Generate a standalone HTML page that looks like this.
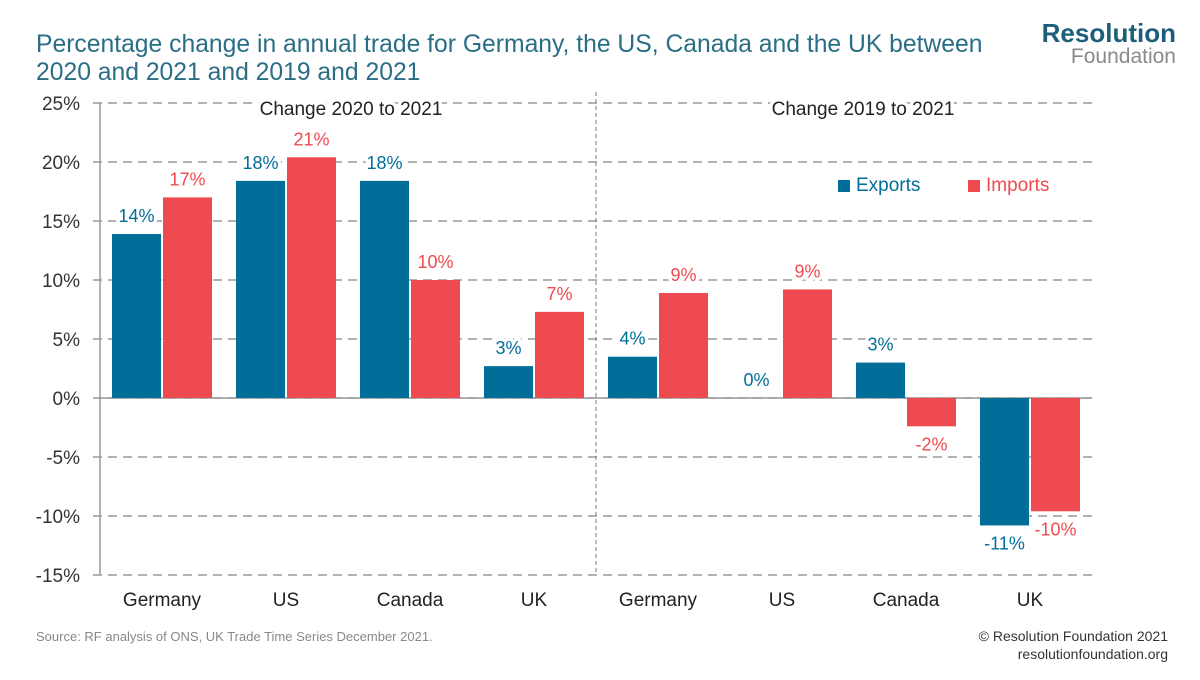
<!DOCTYPE html>
<html><head><meta charset="utf-8"><style>
body{margin:0;background:#fff;width:1200px;height:675px;overflow:hidden;font-family:"Liberation Sans",sans-serif}
.bg{paint-order:stroke;stroke:#fff;stroke-width:7px;stroke-linejoin:round}
</style></head><body>
<svg id="chart" width="1200" height="675" xmlns="http://www.w3.org/2000/svg" font-family="Liberation Sans, sans-serif">
<text x="36" y="52" font-size="24.7" fill="#2a6e86">Percentage change in annual trade for Germany, the US, Canada and the UK between</text>
<text x="36" y="80" font-size="24.7" fill="#2a6e86">2020 and 2021 and 2019 and 2021</text>
<text x="1176" y="42" font-size="26" font-weight="bold" fill="#1d5e7a" text-anchor="end">Resolution</text>
<text x="1176" y="63" font-size="21" fill="#8a8a8a" text-anchor="end">Foundation</text>
<g id="grid"></g>
<g id="bars"></g>
<text class="bg" x="351" y="115" font-size="19" fill="#222" text-anchor="middle">Change 2020 to 2021</text>
<text class="bg" x="863" y="115" font-size="19" fill="#222" text-anchor="middle">Change 2019 to 2021</text>
<g>
<rect x="838" y="180" width="12" height="12" fill="#006e99"/>
<text x="856" y="191" font-size="19" fill="#006e99">Exports</text>
<rect x="968" y="180" width="12" height="12" fill="#ee4a4f"/>
<text x="986" y="191" font-size="19" fill="#ee4a4f">Imports</text>
</g>
<text x="36" y="641" font-size="13" fill="#888">Source: RF analysis of ONS, UK Trade Time Series December 2021.</text>
<text x="1168" y="641" font-size="14" fill="#333" text-anchor="end">© Resolution Foundation 2021</text>
<text x="1168" y="659" font-size="14" fill="#333" text-anchor="end">resolutionfoundation.org</text>
</svg>
<script>
const categories=["Germany","US","Canada","UK","Germany","US","Canada","UK"];
const exportsVals=[13.9,18.4,18.4,2.7,3.5,0,3.0,-10.8];
const importsVals=[17.0,20.4,10.0,7.3,8.9,9.2,-2.4,-9.6];
const exportsLabels=["14%","18%","18%","3%","4%","0%","3%","-11%"];
const importsLabels=["17%","21%","10%","7%","9%","9%","-2%","-10%"];
const yTicks=[25,20,15,10,5,0,-5,-10,-15];
const NS="http://www.w3.org/2000/svg";
const x0=100,x1=1092,y0=398,pxPer=11.8;
const y=v=>y0-v*pxPer;
const band=(x1-x0)/categories.length;
const xc=i=>x0+band*(i+0.5);
function mk(t,a,p){const e=document.createElementNS(NS,t);for(const k in a)e.setAttribute(k,a[k]);p.appendChild(e);return e;}
const grid=document.getElementById('grid'),bars=document.getElementById('bars');
yTicks.forEach(v=>{
  const l=mk('line',{x1:93,x2:x1,y1:y(v),y2:y(v),stroke:'#999','stroke-width':1.5,'stroke-dasharray':'9,6'},grid);
  
  
  const t=mk('text',{x:80,y:y(v)+7,'font-size':19,fill:'#333','text-anchor':'end'},grid);
  t.textContent=v+'%';
  
  
});
let ax=mk('line',{x1:x0,x2:x0,y1:y(25),y2:y(-15),stroke:'#999','stroke-width':1.5},grid);


let zl=mk('line',{x1:x0,x2:x1,y1:y(0),y2:y(0),stroke:'#999','stroke-width':1.5},bars);
let dv=mk('line',{x1:x0+band*4,x2:x0+band*4,y1:92,y2:y(-15),stroke:'#777','stroke-width':1,'stroke-dasharray':'4,3'},grid);


const bw=49;
categories.forEach((c,i)=>{
  [[exportsVals,exportsLabels,'#006e99',-bw-1],[importsVals,importsLabels,'#ee4a4f',1]].forEach(([vals,labs,col,off],s)=>{
    const v=vals[i],bx=xc(i)+off;
    const r=mk('rect',{x:bx,y:Math.min(y(v),y0),width:bw,height:Math.abs(y(v)-y0),fill:col},bars);
    
    
    const ty=v>=0?y(v)-12:y(v)+24;
    const t=mk('text',{x:bx+bw/2,y:ty,'font-size':18,fill:col,'text-anchor':'middle',class:'bg'},bars);
    t.textContent=labs[i];
    
    
  });
  const t=mk('text',{x:xc(i),y:606,'font-size':19,fill:'#222','text-anchor':'middle'},bars);
  t.textContent=c;
  
  
});


</script>
</body></html>
